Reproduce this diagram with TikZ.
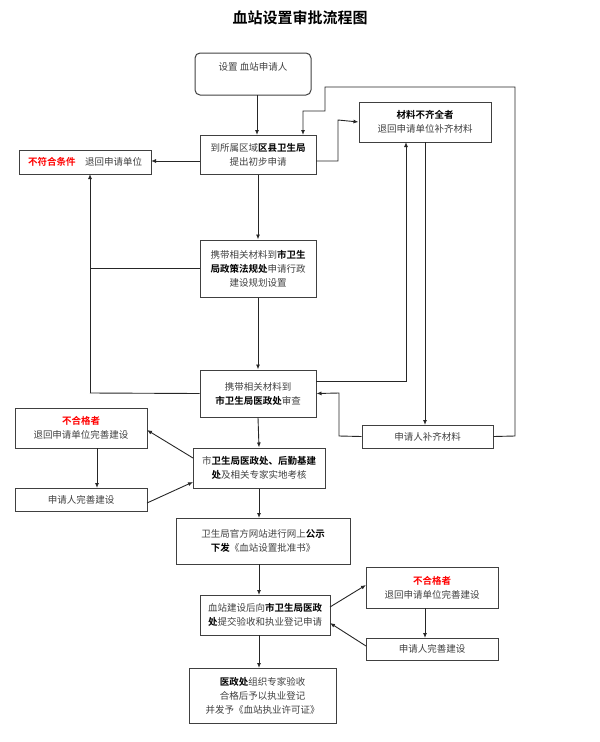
\documentclass[tikz,border=0pt]{standalone}
\usepackage{fontspec}
\setmainfont{Noto Sans CJK SC}
\newfontfamily\cjkb{Noto Sans CJK SC Bold}
\usetikzlibrary{arrows.meta}
\begin{document}
\begin{tikzpicture}[x=1pt,y=-1pt,
 bx/.style={draw=black!75,line width=1pt,align=center,font=\fontsize{9.5}{14}\selectfont,text=black!75,inner sep=0pt},
 ar/.style={-{Latex[length=5pt,width=4pt]},line width=0.9pt,black!85},
 ln/.style={line width=0.9pt,black!85}]
\newcommand{\bb}[1]{{\cjkb\color{black}#1}}
\newcommand{\rr}[1]{{\cjkb\color{red}#1}}
\useasboundingbox (0,0) rectangle (600,742);
\node[font=\cjkb\fontsize{15}{18}\selectfont] (title) at (300,18) {血站设置审批流程图};
\node[bx,rounded corners=5pt,minimum width=116pt,minimum height=42pt,text depth=14pt] (s) at (253,74) {设置\ 血站申请人};
\node[bx,minimum width=116pt,minimum height=39pt] (b1) at (258,154.5) {到所属区域\bb{区县卫生局}\\提出初步申请};
\node[bx,minimum width=132pt,minimum height=24pt] (r1) at (85,162) {\rr{不符合条件}\quad 退回申请单位};
\node[bx,minimum width=132pt,minimum height=40pt] (m1) at (425,122) {\bb{材料不齐全者}\\退回申请单位补齐材料};
\node[bx,minimum width=116pt,minimum height=57pt] (b2) at (258,268.5) {携带相关材料到\bb{市卫生}\\\bb{局政策法规处}申请行政\\建设规划设置};
\node[bx,minimum width=116pt,minimum height=47pt] (b3) at (258,393.5) {携带相关材料到\\\bb{市卫生局医政处}审查};
\node[bx,minimum width=131pt,minimum height=23pt] (bq) at (427.5,436.5) {申请人补齐材料};
\node[bx,minimum width=132pt,minimum height=40pt] (nl) at (81,428) {\rr{不合格者}\\退回申请单位完善建设};
\node[bx,minimum width=132pt,minimum height=23pt] (wl) at (81,499.5) {申请人完善建设};
\node[bx,minimum width=132pt,minimum height=40pt] (b4) at (259,468) {市\bb{卫生局医政处、后勤基建}\\\bb{处}及相关专家实地考核};
\node[bx,minimum width=174pt,minimum height=46pt] (b5) at (263,541) {卫生局官方网站进行网上\bb{公示}\\\bb{下发}《血站设置批准书》};
\node[bx,minimum width=130pt,minimum height=40pt] (b6) at (265,615) {血站建设后向\bb{市卫生局医政}\\\bb{处}提交验收和执业登记申请};
\node[bx,minimum width=132pt,minimum height=41pt] (nr) at (432,587.5) {\rr{不合格者}\\退回申请单位完善建设};
\node[bx,minimum width=132pt,minimum height=22pt] (wr) at (432,649) {申请人完善建设};
\node[bx,minimum width=147pt,minimum height=55pt] (b7) at (262.5,695.5) {\bb{医政处}组织专家验收\\合格后予以执业登记\\并发予《血站执业许可证》};
\coordinate (j1) at (90,393);
\draw[ar] (257,95) -- (257,135);
\draw[ar] (200,161) -- (151,161);
\draw[ar] (316,161) -- (338,161) -- (338,120) -- (m1.west);
\draw[ar] (b1.south) -- (b2.north);
\draw[ln] (b2.west) -- (90,268.5);
\draw[ar] (j1) -- (90,174);
\draw[ln] (b3.west) -- (j1);
\draw[ar] (b2.south) -- (b3.north);
\draw[ar] (316,381) -- (406,381) -- (406,142);
\draw[ar] (425,142) -- (425,425);
\draw[ar] (bq.west) -- (339,436) -- (339,393) -- (b3.east);
\draw[ar] (bq.east) -- (515,436) -- (515,87) -- (325,87) -- (325,111) -- (303,111) -- (303,135);
\draw[ar] (b3.south) -- (b4.north);
\draw[ar] (193,458) -- (147,430);
\draw[ar] (97,448) -- (97,488);
\draw[ar] (147,503) -- (193,482);
\draw[ar] (b4.south) -- (259,518);
\draw[ar] (259,564) -- (259,595);
\draw[ar] (259,635) -- (259,668);
\draw[ar] (330,607) -- (366,585);
\draw[ar] (425,608) -- (425,638);
\draw[ar] (366,646) -- (330,623);
\end{tikzpicture}
\end{document}
